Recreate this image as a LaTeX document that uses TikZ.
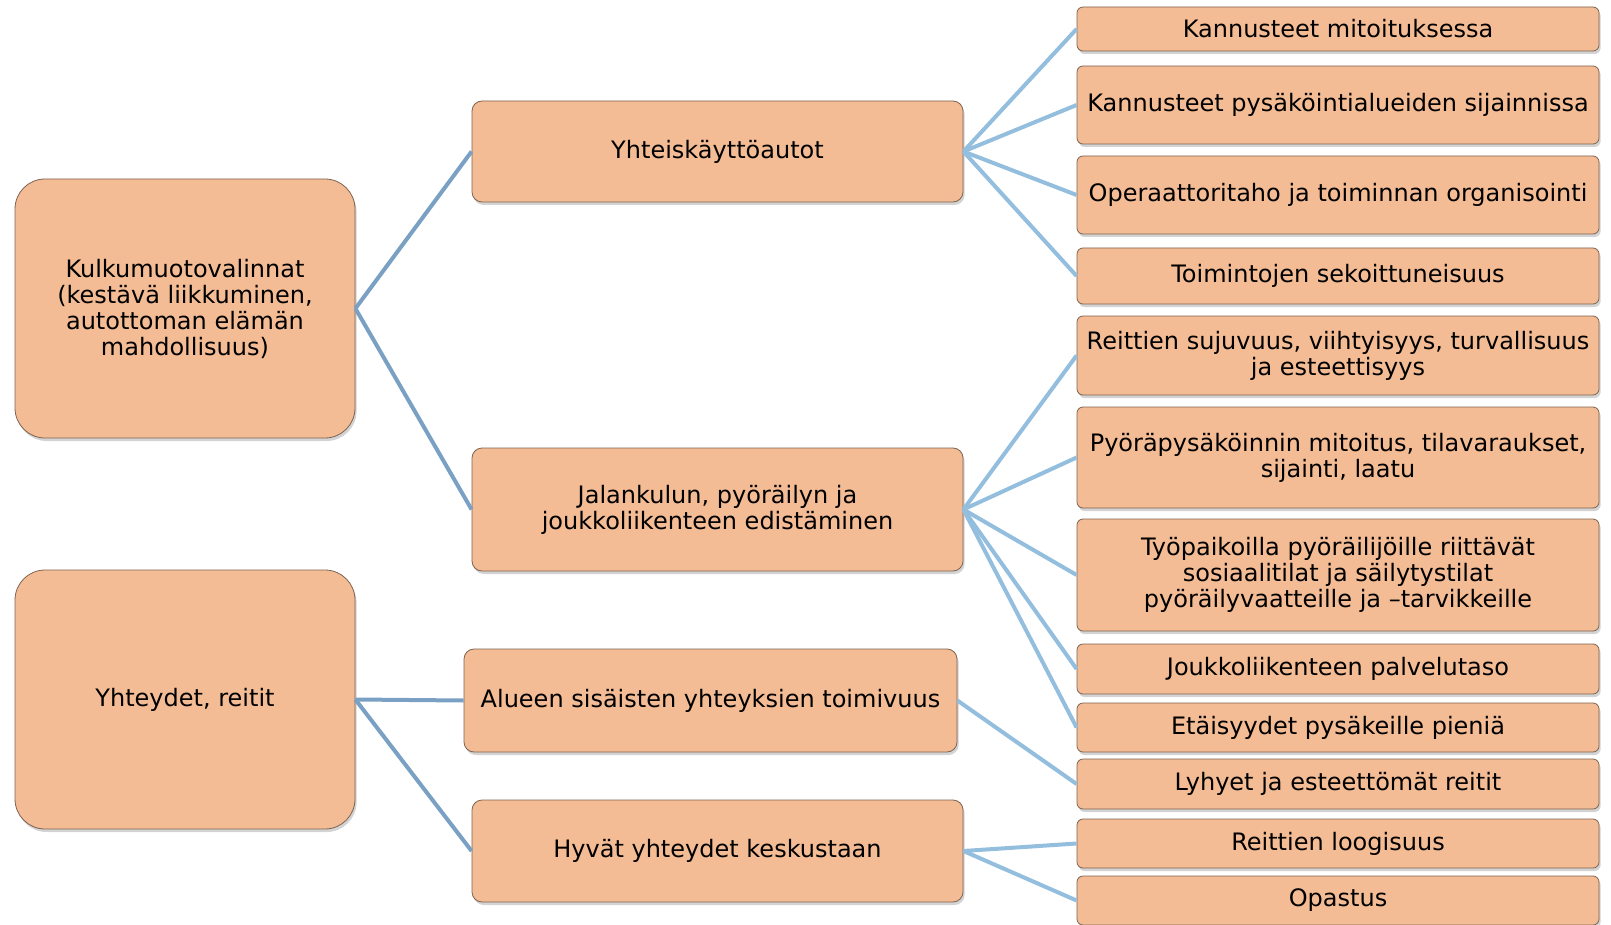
\documentclass[tikz,border=0pt]{standalone}
\usepackage{fontspec}
\setmainfont{DejaVu Sans}
\usetikzlibrary{shadows}

\definecolor{peach}{RGB}{244,188,148}
\definecolor{boxline}{RGB}{125,100,82}
\definecolor{linkblue}{RGB}{122,160,196}
\definecolor{leafblue}{RGB}{148,190,222}

\begin{document}
\begin{tikzpicture}[x=0.5pt,y=-0.5pt,
  every node/.style={align=center, font=\fontsize{12}{13}\selectfont},
  box/.style={draw=boxline, fill=peach, inner sep=0pt,
    drop shadow={opacity=0.35, shadow xshift=0.8pt, shadow yshift=-1.5pt}},
  rootbox/.style={box, rounded corners=15pt, minimum width=170pt, minimum height=129.5pt},
  midbox/.style={box, rounded corners=5pt, minimum width=245.5pt},
  leafbox/.style={box, rounded corners=3pt, minimum width=261pt},
  link/.style={draw=linkblue, line width=2pt},
  sublink/.style={draw=leafblue, line width=2pt}]

\useasboundingbox (0,0) rectangle (1611,925);

% Main themes on the left
\node[rootbox] (kulkumuoto) at (185,308.5) {Kulkumuotovalinnat\\(kestävä liikkuminen,\\autottoman elämän\\mahdollisuus)};
\node[rootbox] (yhteydet) at (185,699.5) {Yhteydet, reitit};

% Middle column
\node[midbox, minimum height=50.5pt] (yhteiskaytto) at (717.5,151.5) {Yhteiskäyttöautot};
\node[midbox, minimum height=61.5pt] (jalankulku) at (717.5,509.5) {Jalankulun, pyöräilyn ja\\joukkoliikenteen edistäminen};
\node[midbox, minimum width=246.5pt, minimum height=51.5pt] (sisaiset) at (710.5,700.5) {Alueen sisäisten yhteyksien toimivuus};
\node[midbox, minimum height=51pt] (keskusta) at (717.5,851) {Hyvät yhteydet keskustaan};

% Right column
\node[leafbox, minimum height=22pt] (mitoitus) at (1338,29) {Kannusteet mitoituksessa};
\node[leafbox, minimum height=39pt] (sijainti) at (1338,105) {Kannusteet pysäköintialueiden sijainnissa};
\node[leafbox, minimum height=39pt] (operaattori) at (1338,195) {Operaattoritaho ja toiminnan organisointi};
\node[leafbox, minimum height=28pt] (sekoittuneisuus) at (1338,276) {Toimintojen sekoittuneisuus};
\node[leafbox, minimum height=39.5pt] (sujuvuus) at (1338,355.5) {Reittien sujuvuus, viihtyisyys, turvallisuus\\ja esteettisyys};
\node[leafbox, minimum height=50.5pt] (pyorapysakointi) at (1338,457.5) {Pyöräpysäköinnin mitoitus, tilavaraukset,\\sijainti, laatu};
\node[leafbox, minimum height=56pt] (tyopaikat) at (1338,575) {Työpaikoilla pyöräilijöille riittävät\\sosiaalitilat ja säilytystilat\\pyöräilyvaatteille ja –tarvikkeille};
\node[leafbox, minimum height=25pt] (palvelutaso) at (1338,669) {Joukkoliikenteen palvelutaso};
\node[leafbox, minimum height=24.5pt] (etaisyydet) at (1338,727.5) {Etäisyydet pysäkeille pieniä};
\node[leafbox, minimum height=25pt] (lyhyet) at (1338,784) {Lyhyet ja esteettömät reitit};
\node[leafbox, minimum height=24.5pt] (loogisuus) at (1338,843.5) {Reittien loogisuus};
\node[leafbox, minimum height=24.5pt] (opastus) at (1338,900.5) {Opastus};

% Connectors from the main themes
\draw[link] (kulkumuoto.east) -- (yhteiskaytto.west);
\draw[link] (kulkumuoto.east) -- (jalankulku.west);
\draw[link] (yhteydet.east) -- (sisaiset.west);
\draw[link] (yhteydet.east) -- (keskusta.west);

% Connectors to the right column
\foreach \leaf in {mitoitus,sijainti,operaattori,sekoittuneisuus}
  \draw[sublink] (yhteiskaytto.east) -- (\leaf.west);
\foreach \leaf in {sujuvuus,pyorapysakointi,tyopaikat,palvelutaso,etaisyydet}
  \draw[sublink] (jalankulku.east) -- (\leaf.west);
\draw[sublink] (sisaiset.east) -- (lyhyet.west);
\draw[sublink] (keskusta.east) -- (loogisuus.west);
\draw[sublink] (keskusta.east) -- (opastus.west);

\end{tikzpicture}
\end{document}
